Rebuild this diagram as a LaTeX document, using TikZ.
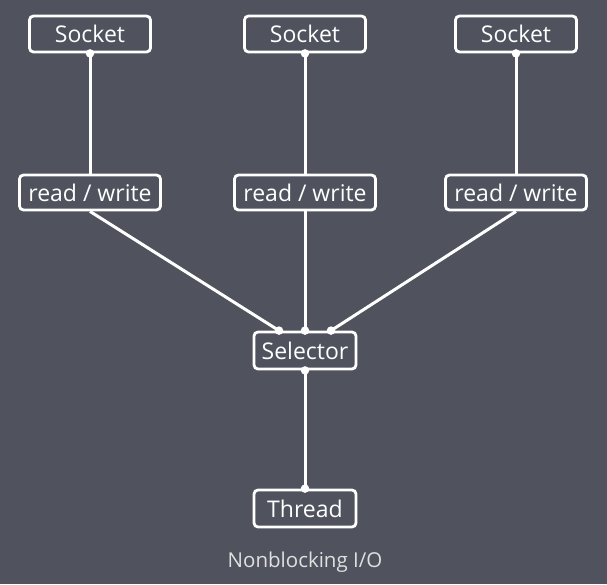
\documentclass[tikz,border=0pt]{standalone}
\usepackage{fontspec}
\setmainfont{Open Sans}
\definecolor{bg}{HTML}{50535E}
\definecolor{fg}{HTML}{FFFFFF}
\definecolor{cap}{HTML}{E0E0E0}
\begin{document}
\begin{tikzpicture}[x=1pt,y=-1pt,
  box/.style={draw=fg,line width=2.8pt,rounded corners=4pt,text=fg,inner sep=0pt,font=\fontsize{23}{26}\selectfont},
  wire/.style={draw=fg,line width=3pt},
  dot/.style={circle,fill=fg,inner sep=0pt,minimum size=8.5pt}]
\fill[bg] (0,0) rectangle (607,584);
\useasboundingbox (0,0) rectangle (607,584);
\node[box,minimum width=121pt,minimum height=36pt] (s1) at (90,34) {Socket};
\node[box,minimum width=121pt,minimum height=36pt] (s2) at (305,34) {Socket};
\node[box,minimum width=121pt,minimum height=36pt] (s3) at (516,34) {Socket};
\node[box,minimum width=141pt,minimum height=35pt] (r1) at (90,192.5) {read / write};
\node[box,minimum width=141pt,minimum height=35pt] (r2) at (305,192.5) {read / write};
\node[box,minimum width=141pt,minimum height=35pt] (r3) at (516,192.5) {read / write};
\node[box,minimum width=102pt,minimum height=37pt] (sel) at (305,350.5) {Selector};
\node[box,minimum width=102pt,minimum height=37pt] (th) at (305,508.5) {Thread};
\node[text=cap,font=\fontsize{20.5}{24}\selectfont] (capt) at (305,562) {Nonblocking I/O};
\coordinate (selL) at ([xshift=-26pt]sel.north);
\coordinate (selR) at ([xshift=26pt]sel.north);
\draw[wire] (s1.south) -- (r1.north);
\draw[wire] (s2.south) -- (r2.north);
\draw[wire] (s3.south) -- (r3.north);
\draw[wire] (r1.south) -- (selL);
\draw[wire] (r2.south) -- (sel.north);
\draw[wire] (r3.south) -- (selR);
\draw[wire] (sel.south) -- (th.north);
\node[dot] (d1) at (s1.south) {};
\node[dot] (d2) at (s2.south) {};
\node[dot] (d3) at (s3.south) {};
\node[dot] (d4) at (selL) {};
\node[dot] (d5) at (sel.north) {};
\node[dot] (d6) at (selR) {};
\node[dot] (d7) at (sel.south) {};
\node[dot] (d8) at (th.north) {};
\end{tikzpicture}
\end{document}
